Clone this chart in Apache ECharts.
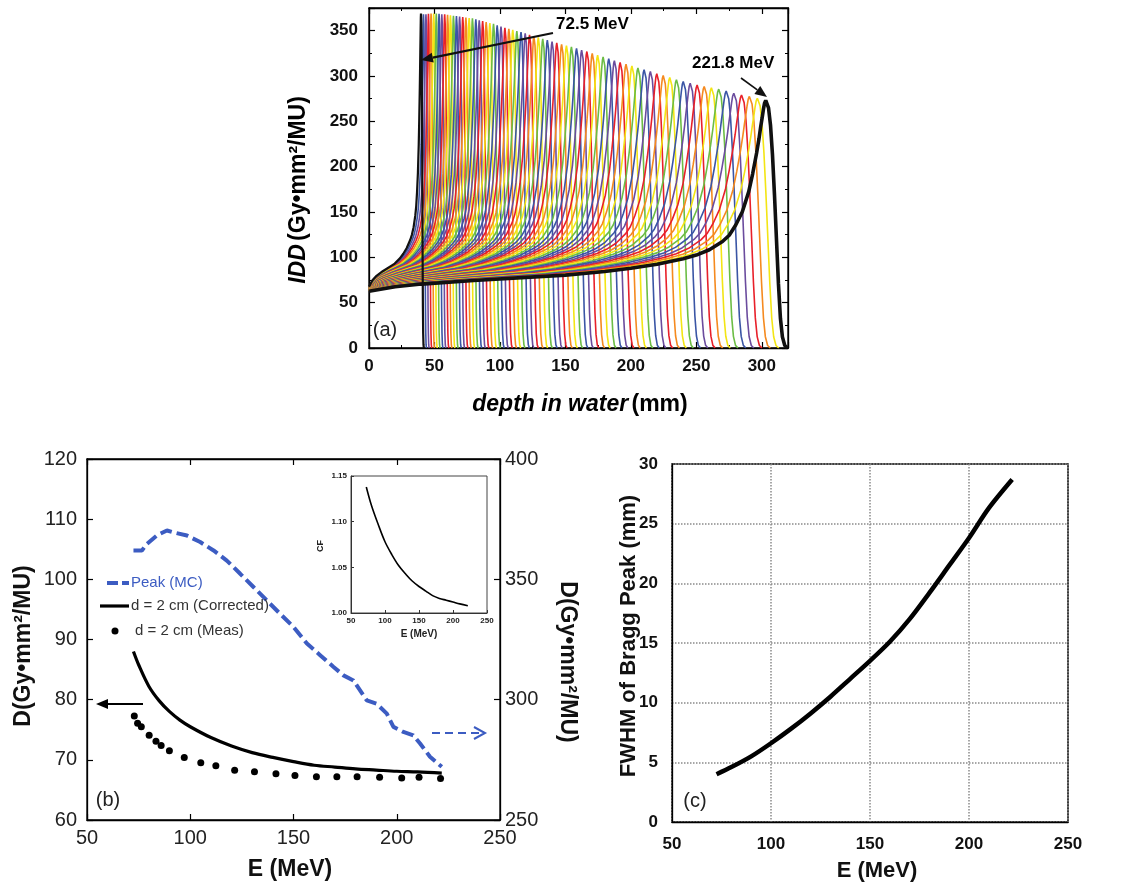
<!DOCTYPE html>
<html><head><meta charset="utf-8">
<script src="https://cdn.jsdelivr.net/npm/echarts/dist/echarts.min.js"></script>
<style>html,body{margin:0;padding:0;background:#fff}#c{width:1129px;height:888px}</style>
</head><body><div id="c"></div>
<script>
const FONT = '"Liberation Sans", Arial, Helvetica, sans-serif';

// ---------- Panel (a): integral depth dose curves ----------
const peakDepth = [39.7,41.6,43.5,45.4,47.4,49.4,51.4,53.5,55.6,57.8,60.0,62.2,64.5,66.8,69.2,71.6,74.0,76.5,79.0,81.6,84.2,86.8,89.5,92.3,95.1,97.9,100.8,103.8,106.8,109.8,112.9,116.1,119.3,122.6,125.9,129.3,132.7,136.2,139.8,143.4,147.1,150.8,154.6,158.5,162.4,166.4,170.5,174.6,178.8,183.1,187.4,191.8,196.3,200.8,205.4,210.1,214.9,219.8,224.7,229.7,234.8,240.0,245.3,250.6,256.0,261.5,267.1,272.8,278.6,284.5,290.5,296.6,303.0];
const peakDose = [369,368,368,368.5,369,369,369,368.5,368,368,367.5,367,366.5,366,365.5,365,364.5,364,363.5,362.5,361.5,360.5,359.5,358.5,357.5,356,354.5,353,352,351,349.5,348.5,347,345.5,344,342.5,341,339.5,338,336.5,335,333.5,332,330.5,328.5,327,325,323,321,319,317,315,313,311,309,307,305,302.5,300.5,298.5,296,294,292,290,288.5,287,285.5,283.5,281,279,277.5,275.5,273];
const entryDose = [67.5,67.4,67.3,67.2,67.1,67.0,66.9,66.8,66.7,66.6,66.5,66.4,66.3,66.2,66.1,66.0,65.9,65.8,65.7,65.6,65.5,65.4,65.3,65.2,65.1,65.0,64.9,64.9,64.8,64.8,64.7,64.7,64.6,64.6,64.5,64.5,64.4,64.4,64.3,64.3,64.2,64.2,64.1,64.1,64.0,64.0,63.9,63.9,63.8,63.8,63.7,63.7,63.6,63.6,63.5,63.5,63.4,63.4,63.3,63.3,63.2,63.2,63.1,63.1,63.0,63.0,62.9,62.9,62.8,62.8,62.7,62.7,62.5];
// Bragg curve shape (depth / peak depth, relative rise)
const shapeU = [0,0.066,0.132,0.264,0.396,0.495,0.594,0.66,0.726,0.792,0.825,0.858,0.891,0.908,0.924,0.941,0.957,0.967,0.977,0.983,0.987,0.991,0.994,0.997,1];
const shapeF = [0,0.024,0.038,0.057,0.073,0.085,0.104,0.121,0.142,0.171,0.19,0.218,0.261,0.294,0.346,0.417,0.521,0.616,0.725,0.8,0.858,0.91,0.952,0.986,1];
const fallV = [1.003,1.007,1.012,1.017,1.022,1.027,1.032,1.037,1.042,1.048,1.055];
const fallG = [0.995,0.97,0.9,0.78,0.62,0.44,0.26,0.12,0.045,0.01,0];
const rainbow = ['#E8202A','#F58A1F','#F3E514','#6CBD45','#3A55A5','#6B4C9E'];

// ---------- Panel (b) ----------
const peakE  = [72.5,76.6,79,83.9,88.7,91.9,98.4,104.8,111.3,117.7,124.2,130.6,137.1,143.5,150,156.5,162.9,169.4,174.2,179,185.5,190.3,195.2,198.4,203.2,208,211.3,216.1,221.8];
const peakMC = [362,362,364.7,368.3,370.3,369.5,368.2,365.5,362,357.8,352.3,346.8,341.2,335.7,330.2,323.3,318.5,313.6,310.1,308,299.7,298.3,294.2,288.7,286.6,285.2,281.8,276.3,272.1];
const corrE = [72.5,75,80,85,90,95,100,110,120,130,140,150,160,170,180,190,200,210,221.8];
const corrD = [88.0,85.8,82.2,79.8,78.0,76.6,75.5,73.7,72.3,71.2,70.4,69.7,69.1,68.8,68.5,68.3,68.1,68.0,67.8];
const measE = [72.9,74.5,76.3,80.1,83.4,85.9,89.9,97.1,105.1,112.4,121.5,131.1,141.5,150.7,161.1,171,180.8,191.7,202.4,210.8,221.2];
const measD = [77.3,76.1,75.5,74.1,73.1,72.4,71.5,70.4,69.5,69.0,68.25,68.0,67.7,67.4,67.2,67.2,67.2,67.1,67.0,67.1,66.9];
const cfE = [72.5,80,90,100,110,120,130,140,150,160,170,180,190,200,210,221.8];
const cfV = [1.138,1.118,1.097,1.078,1.064,1.052,1.043,1.035,1.029,1.024,1.019,1.016,1.014,1.012,1.010,1.008];

// ---------- Panel (c) ----------
const fwhmE = [72.5,80,90,100,110,120,130,140,150,160,170,180,190,200,210,221.8];
const fwhmV = [4.0,4.6,5.5,6.6,7.8,9.1,10.5,12.0,13.5,15.1,17.0,19.2,21.5,23.8,26.3,28.7];

const zip = (a,b)=>a.map((v,i)=>[v,b[i]]);

const seriesA = peakDepth.map((p,i)=>{
  const h = peakDose[i], e = entryDose[i];
  const data = shapeU.map((u,k)=>[u*p, e+(h-e)*shapeF[k]]).concat(fallV.map((v,k)=>[v*p, h*fallG[k]]));
  const first = i===0, last = i===peakDepth.length-1;
  return {type:'line', xAxisIndex:0, yAxisIndex:0, data, symbol:'none', showSymbol:false, silent:true,
    lineStyle:{width:last?3.6:(first?2.2:1.6), color:(first||last)?'#111':rainbow[(i+3)%6]},
    z: last?6:(first?5:2)};
});

function axisBase(extra){
  const o = {type:'value', splitLine:{show:false},
    axisLine:{show:true, onZero:false, lineStyle:{color:'#000', width:1.3}},
    axisTick:{show:true, inside:true, length:6, lineStyle:{color:'#000', width:1.2}},
    axisLabel:{show:false}};
  for (const k in extra) o[k] = extra[k];
  return o;
}
const lblA = {show:true, fontFamily:FONT, fontWeight:'bold', fontSize:17, color:'#111', margin:10, formatter:v=>v%50===0?String(v):''};
const lblB = {show:true, fontFamily:FONT, fontSize:20, color:'#222', margin:9};
const lblI = {show:true, fontFamily:FONT, fontWeight:'bold', fontSize:8, color:'#222', margin:4};
const lblC = {show:true, fontFamily:FONT, fontWeight:'bold', fontSize:17, color:'#111', margin:14};

const xAxis = [
  axisBase({gridIndex:0, min:0, max:320, interval:50, position:'bottom', minorTick:{show:true, splitNumber:2, length:3}, axisLabel:lblA}),
  axisBase({gridIndex:0, min:0, max:320, interval:50, position:'top', minorTick:{show:true, splitNumber:2, length:3}}),
  axisBase({gridIndex:1, min:50, max:250, interval:50, position:'bottom', axisLabel:Object.assign({}, lblB, {margin:8})}),
  axisBase({gridIndex:1, min:50, max:250, interval:50, position:'top'}),
  axisBase({gridIndex:2, min:50, max:250, interval:50, position:'bottom', axisTick:{show:true, inside:true, length:3}, axisLine:{show:true,onZero:false,lineStyle:{color:'#333',width:1}}, axisLabel:lblI}),
  axisBase({gridIndex:3, min:50, max:250, interval:50, position:'bottom', axisTick:{show:false}, axisLabel:lblC,
    splitLine:{show:true, lineStyle:{color:'#8a8a8a', type:'dotted', width:1.5}}})
];
const yAxis = [
  axisBase({gridIndex:0, min:0, max:375, interval:50, position:'left', minorTick:{show:true, splitNumber:2, length:3}, axisLabel:Object.assign({}, lblA, {margin:11})}),
  axisBase({gridIndex:0, min:0, max:375, interval:50, position:'right', minorTick:{show:true, splitNumber:2, length:3}}),
  axisBase({gridIndex:1, min:60, max:120, interval:10, position:'left', axisLabel:Object.assign({}, lblB, {margin:10})}),
  axisBase({gridIndex:1, min:250, max:400, interval:50, position:'right', axisLabel:Object.assign({}, lblB, {margin:5})}),
  axisBase({gridIndex:2, min:1.0, max:1.15, interval:0.05, position:'left', axisTick:{show:true, inside:true, length:3}, axisLine:{show:true,onZero:false,lineStyle:{color:'#333',width:1}}, axisLabel:Object.assign({}, lblI, {formatter:v=>v.toFixed(2)})}),
  axisBase({gridIndex:3, min:0, max:30, interval:5, position:'left', axisTick:{show:false}, axisLabel:lblC,
    splitLine:{show:true, lineStyle:{color:'#8a8a8a', type:'dotted', width:1.5}}})
];

const grid = [
  {left:369, top:8, width:419, height:340, show:true, borderColor:'#000', borderWidth:1.3, backgroundColor:'transparent'},
  {left:87, top:459, width:413, height:361, show:true, borderColor:'#000', borderWidth:1.3, backgroundColor:'transparent'},
  {left:351, top:476, width:136, height:137, show:true, borderColor:'#444', borderWidth:1, backgroundColor:'#fff'},
  {left:672, top:464, width:396, height:358, show:true, borderColor:'#000', borderWidth:1.5, backgroundColor:'transparent'}
];

const series = seriesA.concat([
  {type:'line', xAxisIndex:2, yAxisIndex:3, data:zip(peakE, peakMC), symbol:'none', showSymbol:false,
    lineStyle:{color:'#3C5CC2', width:4, type:[12,5]}, z:3},
  {type:'line', xAxisIndex:2, yAxisIndex:2, data:zip(corrE, corrD), symbol:'none', showSymbol:false, smooth:0.35,
    lineStyle:{color:'#000', width:3.2}, z:3},
  {type:'scatter', xAxisIndex:2, yAxisIndex:2, data:zip(measE, measD), symbol:'circle', symbolSize:7,
    itemStyle:{color:'#000', opacity:1}, z:3},
  {type:'line', xAxisIndex:4, yAxisIndex:4, data:zip(cfE, cfV), symbol:'none', showSymbol:false, smooth:0.35,
    lineStyle:{color:'#000', width:1.6}, z:8},
  {type:'line', xAxisIndex:5, yAxisIndex:5, data:zip(fwhmE, fwhmV), symbol:'none', showSymbol:false, smooth:0.3,
    lineStyle:{color:'#000', width:4.5}, z:3}
]);

// ---------- annotations ----------
function text(x, y, str, opt){
  opt = opt || {};
  return {type:'text', x, y, rotation:opt.rot||0, z:20,
    style:{text:str, fill:opt.color||'#000', font:opt.font, rich:opt.rich,
      align:opt.align||'center', verticalAlign:'middle', textAlign:opt.align||'center', textVerticalAlign:'middle'}};
}
function arrow(x1,y1,x2,y2,color,width,dash,open){
  const a = Math.atan2(y2-y1, x2-x1), L = open?11:12, W = open?6:5;
  const bx = x2 - L*Math.cos(a), by = y2 - L*Math.sin(a);
  const px = -Math.sin(a)*W, py = Math.cos(a)*W;
  const els = [{type:'line', z:20, shape:{x1, y1, x2: open?x2-2*Math.cos(a):bx, y2: open?y2-2*Math.sin(a):by},
    style:{stroke:color, lineWidth:width, lineDash:dash||null}}];
  if (open) els.push({type:'polyline', z:20, shape:{points:[[bx+px,by+py],[x2,y2],[bx-px,by-py]]}, style:{stroke:color, lineWidth:2, fill:null}});
  else els.push({type:'polygon', z:20, shape:{points:[[x2,y2],[bx+px,by+py],[bx-px,by-py]]}, style:{fill:color}});
  return els;
}
const richBold = (s)=>({fontFamily:FONT, fontWeight:'bold', fontSize:s});
const richBI = (s)=>({fontFamily:FONT, fontWeight:'bold', fontStyle:'italic', fontSize:s});

const graphic = [
  // panel (a)
  text(299, 190, '{i|IDD} {b|(Gy\u2022mm\u00B2/MU)}', {rot:Math.PI/2, rich:{i:richBI(23), b:richBold(23)}}),
  text(580, 405, '{i|depth in water} {b|(mm)}', {rich:{i:richBI(23), b:richBold(23)}}),
  text(385, 330, '(a)', {font:'20px '+FONT, color:'#222'}),
  text(556, 24, '72.5 MeV', {font:'bold 17px '+FONT, align:'left'}),
  text(692, 63, '221.8 MeV', {font:'bold 17px '+FONT, align:'left'}),
  ...arrow(553, 33, 421, 60, '#111', 2.2),
  ...arrow(741, 78, 767, 97, '#111', 1.6),
  // panel (b)
  text(24, 646, 'D(Gy\u2022mm\u00B2/MU)', {rot:Math.PI/2, font:'bold 23px '+FONT, color:'#111'}),
  text(567, 662, 'D(Gy\u2022mm\u00B2/MU)', {rot:-Math.PI/2, font:'bold 23px '+FONT, color:'#111'}),
  text(290, 870, 'E (MeV)', {font:'bold 23px '+FONT, color:'#111'}),
  text(108, 800, '(b)', {font:'20px '+FONT, color:'#222'}),
  {type:'line', z:20, shape:{x1:107, y1:583, x2:129, y2:583}, style:{stroke:'#3C5CC2', lineWidth:4, lineDash:[11,4]}},
  text(131, 583, 'Peak (MC)', {font:'15px '+FONT, color:'#3C5CC2', align:'left'}),
  {type:'line', z:20, shape:{x1:100, y1:606, x2:129, y2:606}, style:{stroke:'#000', lineWidth:3.2}},
  text(131, 606, 'd = 2 cm (Corrected)', {font:'15px '+FONT, color:'#333', align:'left'}),
  {type:'circle', z:20, shape:{cx:115, cy:631, r:3.5}, style:{fill:'#000'}},
  text(135, 631, 'd = 2 cm (Meas)', {font:'15px '+FONT, color:'#333', align:'left'}),
  ...arrow(143, 704, 96, 704, '#000', 2.2),
  ...arrow(432, 733, 485, 733, '#3C5CC2', 2.2, [8,5], true),
  text(321, 546, 'CF', {rot:Math.PI/2, font:'bold 9px '+FONT, color:'#222'}),
  text(419, 634, 'E (MeV)', {font:'bold 10px '+FONT, color:'#222'}),
  // panel (c)
  text(629, 636, 'FWHM of Bragg Peak (mm)', {rot:Math.PI/2, font:'bold 22px '+FONT, color:'#111'}),
  text(877, 871, 'E (MeV)', {font:'bold 22px '+FONT, color:'#111'}),
  text(695, 801, '(c)', {font:'20px '+FONT, color:'#222'})
];

const chart = echarts.init(document.getElementById('c'), null, {renderer:'canvas'});
chart.setOption({
  animation:false, backgroundColor:'#fff',
  grid, xAxis, yAxis, series, graphic
});
</script></body></html>
